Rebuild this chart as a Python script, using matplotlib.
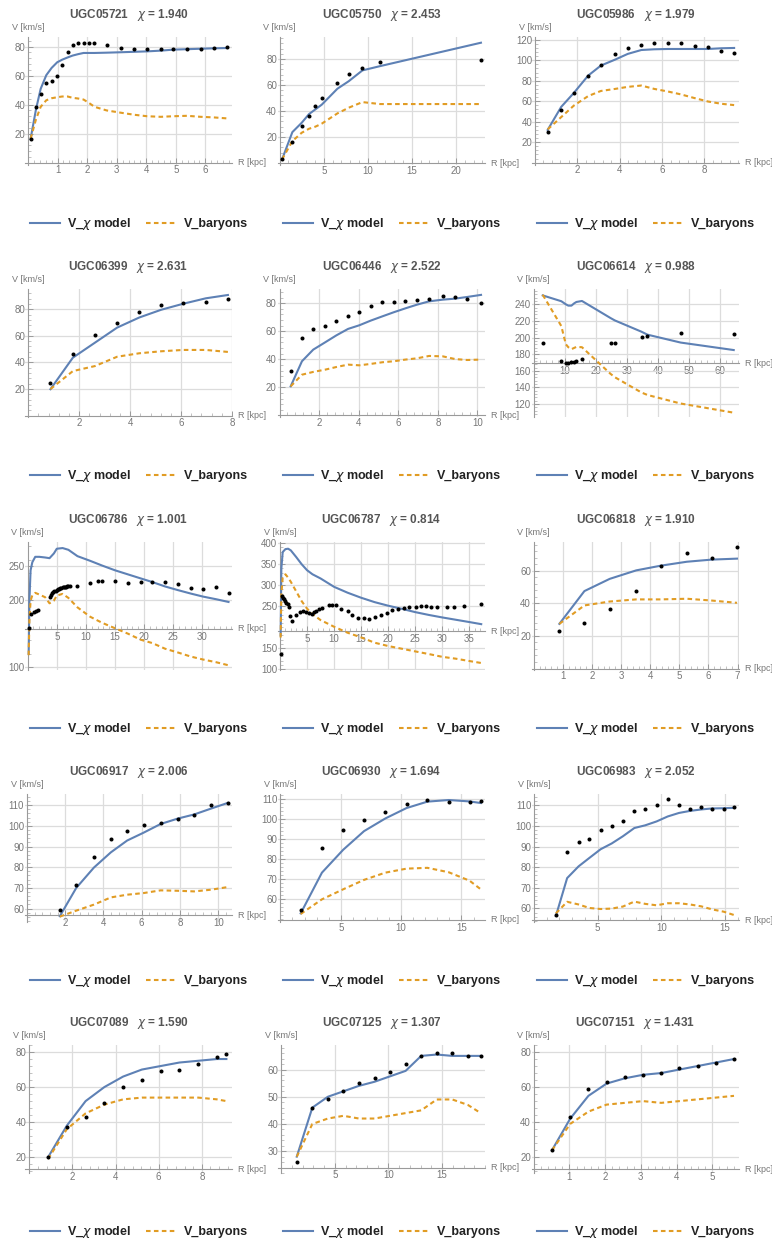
import matplotlib
matplotlib.use("Agg")
import matplotlib.pyplot as plt
from matplotlib.lines import Line2D
from matplotlib.ticker import AutoMinorLocator

plt.rcParams['font.family'] = ['Liberation Sans', 'DejaVu Sans']

BLUE = "#5e81b5"
ORANGE = "#e19c24"

# ---- data (R in kpc, V in km/s) ----
names = ["UGC05721", "UGC05750", "UGC05986", "UGC06399", "UGC06446", "UGC06614",
         "UGC06786", "UGC06787", "UGC06818", "UGC06917", "UGC06930", "UGC06983",
         "UGC07089", "UGC07125", "UGC07151"]
chis = ["1.940", "2.453", "1.979", "2.631", "2.522", "0.988",
        "1.001", "0.814", "1.910", "2.006", "1.694", "2.052",
        "1.590", "1.307", "1.431"]

# UGC05721
r_05721 = [0.09, 0.27, 0.43, 0.62, 0.80, 0.99, 1.16, 1.34, 1.51, 1.70, 1.88, 2.06, 2.25,
           2.66, 3.15, 3.60, 4.03, 4.49, 4.92, 5.38, 5.84, 6.28, 6.74]
v_05721 = [16.5, 38.5, 47.2, 55.2, 56.6, 59.8, 67.6, 76.3, 81.3, 82.2, 82.7, 82.2, 82.2,
           81.3, 79.3, 78.6, 78.4, 78.1, 78.6, 78.1, 78.4, 78.8, 79.5]
m_05721 = [16.5, 36.6, 50.9, 60.3, 65.3, 69.2, 71.0, 72.5, 73.8, 74.8, 75.6, 75.6, 75.6,
           75.8, 76.1, 76.4, 76.7, 77.2, 77.9, 78.2, 78.5, 78.8, 79.0]
b_05721 = [16.5, 29.8, 38.5, 43.0, 44.4, 45.1, 45.6, 45.6, 44.7, 44.2, 43.5, 41.2, 38.5,
           36.0, 34.4, 33.0, 32.0, 31.6, 32.0, 32.3, 31.6, 31.2, 30.5]

# UGC05750
r_05750 = [0.27, 1.44, 2.5, 3.33, 4.05, 4.77, 6.55, 7.84, 9.39, 11.4, 22.84]
v_05750 = [2.8, 16.2, 28.2, 36.4, 44.1, 50.0, 61.5, 68.5, 73.3, 77.9, 79.0]
m_05750 = [2.8, 23.8, 31.0, 37.7, 41.3, 44.9, 57.2, 63.0, 71.3, 74.6, 92.6]
b_05750 = [2.8, 16.9, 23.3, 26.4, 28.0, 30.3, 38.2, 42.6, 46.9, 45.4, 45.4]

# UGC05986
r_05986 = [0.6, 1.24, 1.84, 2.51, 3.11, 3.78, 4.38, 5.02, 5.63, 6.27, 6.9, 7.54, 8.17, 8.79, 9.4]
v_05986 = [29.9, 51.3, 68.5, 84.7, 95.5, 106.2, 112.3, 115.0, 116.6, 116.6, 116.6, 114.3,
           112.7, 109.0, 107.1]
m_05986 = [32.0, 54.5, 68.2, 85.0, 94.8, 100.6, 106.2, 110.0, 110.7, 111.0, 111.0, 111.0,
           111.0, 111.7, 112.0]
b_05986 = [32.5, 44.5, 55.8, 65.0, 70.0, 72.0, 74.0, 75.3, 72.0, 69.5, 66.6, 63.0, 59.7,
           57.5, 56.2]

# UGC06399
r_06399 = [0.87, 1.75, 2.62, 3.49, 4.36, 5.22, 6.08, 6.97, 7.84]
v_06399 = [24.7, 46.1, 60.5, 69.5, 77.6, 82.9, 84.4, 85.6, 87.7]
m_06399 = [19.9, 43.6, 54.9, 66.2, 73.8, 79.6, 84.1, 88.2, 90.7]
b_06399 = [20.0, 33.5, 37.3, 44.3, 46.9, 48.4, 49.4, 49.4, 47.9]

# UGC06446
r_06446 = [0.56, 1.13, 1.7, 2.3, 2.87, 3.46, 4.03, 4.6, 5.2, 5.77, 6.36, 6.94, 7.56, 8.25,
           8.86, 9.47, 10.18]
v_06446 = [31.7, 55.0, 61.7, 64.0, 67.6, 71.0, 74.0, 78.3, 81.2, 81.0, 81.7, 82.1, 83.3,
           85.2, 84.8, 83.3, 80.2]
m_06446 = [20.7, 38.6, 46.9, 52.1, 57.1, 61.7, 64.3, 67.6, 70.7, 73.6, 76.4, 79.0, 81.4,
           82.6, 83.3, 84.5, 86.0]
b_06446 = [20.7, 29.0, 31.0, 32.6, 34.5, 36.2, 35.7, 36.7, 37.9, 38.6, 39.8, 40.7, 42.4,
           42.1, 40.2, 39.5, 39.8]

# UGC06614
r_06614 = [2.95, 8.95, 10.4, 11.2, 12.2, 13.1, 13.8, 15.6, 24.8, 26.2, 34.8, 36.7, 47.4, 64.5]
v_06614 = [193.8, 172.0, 169.6, 169.6, 170.4, 171.2, 172.0, 174.0, 193.0, 193.8, 200.8,
           201.6, 204.9, 204.1]
m_06614 = [250.7, 243.7, 240.0, 238.4, 238.4, 241.2, 242.8, 244.0, 223.5, 220.6, 207.0,
           203.5, 194.0, 185.0]
b_06614 = [251.5, 213.8, 192.0, 188.4, 186.0, 187.6, 188.8, 188.4, 156.4, 152.3, 133.9,
           131.0, 120.7, 109.7]

# UGC06786
r_06786 = [0.17, 0.5, 1.16, 1.5, 1.73, 3.75, 4.0, 4.2, 4.4, 4.6, 4.8, 5.0, 5.2, 5.4, 5.6,
           5.8, 6.0, 6.2, 6.4, 6.6, 6.8, 7.0, 7.2, 8.55, 10.75, 12.1, 12.8, 15.0, 17.2, 19.4,
           21.4, 23.6, 25.8, 28.0, 30.1, 32.4, 34.5]
v_06786 = [158, 179, 181.5, 184, 185.5, 205, 208, 210, 211.5, 213, 214, 215, 216, 216.8,
           217.5, 218, 218.5, 219, 219.3, 219.6, 220, 220.2, 220.5, 220, 224.6, 228, 228.6,
           228.6, 225.6, 226, 227, 227, 223.6, 218, 215.6, 219, 211]
rm_06786 = [0.17, 0.3, 0.5, 0.8, 1.3, 2.0, 3.0, 3.75, 4.5, 5.0, 6.0, 7.0, 8.55, 10.75, 12.8,
            15.0, 17.2, 19.4, 21.4, 23.6, 25.8, 28.0, 30.1, 32.4, 34.5]
m_06786 = [120, 200, 244, 256, 264, 264, 263, 262, 269, 276, 277, 274.4, 265, 258, 251, 244,
           238, 232, 226.6, 220, 214.6, 209.5, 205, 201, 197]
b_06786 = [118, 170, 199, 207, 210.5, 208, 204, 195, 199, 206.5, 209, 203, 189, 175, 166,
           158, 150, 141, 136, 127.6, 122, 116, 111.6, 107.5, 103]

# UGC06787
r_06787 = [0.12, 0.4, 0.6, 0.8, 1.0, 1.2, 1.4, 1.6, 1.87, 2.2, 3.0, 3.74, 4.24, 4.86, 5.36,
           5.86, 6.3, 6.73, 7.23, 7.73, 9.0, 9.6, 10.29, 11.3, 12.5, 13.3, 14.4, 15.46, 16.46,
           17.5, 18.6, 19.7, 20.76, 21.8, 22.9, 23.9, 25.06, 26.0, 26.9, 27.9, 29.1, 30.9,
           32.2, 34.0, 37.2]
v_06787 = [135, 274, 270, 266, 262, 258, 254, 248, 226, 214, 228, 237, 239, 237, 234, 232,
           236, 239, 242, 246, 251.6, 253, 251.6, 242, 239, 229, 222, 220.6, 220, 225, 229,
           233, 239.7, 243.6, 246, 248.4, 249, 250, 250, 249, 247.6, 246.8, 248.4, 250.8,
           254.8]
rm_06787 = [0.12, 0.25, 0.5, 1.0, 1.5, 2.0, 3.0, 4.0, 5.0, 6.0, 7.5, 10.0, 12.5, 15.0, 17.5,
            20.0, 22.5, 25.0, 27.5, 30.0, 32.5, 35.0, 37.2]
m_06787 = [180, 340, 379, 386, 387, 383, 367, 350, 335.7, 326, 316, 296, 282, 270, 259.5,
           251, 243.6, 235.7, 229, 223, 217.5, 212, 207]
b_06787 = [175, 280, 318, 326, 318, 308, 285, 262, 244, 231, 216.7, 200.8, 186.5, 175.4,
           162.7, 154.8, 148.4, 142, 135.7, 129, 124.6, 119, 114.3]

# UGC06818
r_06818 = [0.88, 1.74, 2.61, 3.52, 4.37, 5.26, 6.11, 6.98]
v_06818 = [23.3, 28.0, 36.6, 47.7, 63.1, 71.1, 68.0, 74.4]
m_06818 = [27.4, 47.5, 55.0, 60.2, 63.1, 65.5, 66.8, 67.4]
b_06818 = [27.4, 38.7, 41.1, 42.4, 42.4, 42.8, 41.7, 40.3]

# UGC06917
r_06917 = [1.72, 2.58, 3.5, 4.39, 5.24, 6.1, 6.99, 7.88, 8.74, 9.61, 10.5]
v_06917 = [59.2, 71.4, 84.8, 93.6, 97.7, 100.3, 101.4, 103.2, 105.1, 110.2, 111.1]
m_06917 = [56.3, 70.0, 79.8, 87.2, 92.9, 96.7, 100.9, 103.5, 105.5, 108.3, 111.1]
b_06917 = [56.1, 59.0, 61.9, 65.4, 66.7, 67.5, 68.8, 68.6, 68.3, 69.1, 70.4]

# UGC06930
r_06930 = [1.68, 3.44, 5.2, 6.93, 8.69, 10.45, 12.18, 13.94, 15.67, 16.6]
v_06930 = [54.5, 85.8, 94.5, 99.3, 103.5, 107.7, 109.7, 108.7, 108.5, 108.8]
m_06930 = [53.0, 73.3, 84.7, 94.0, 100.3, 105.5, 108.7, 109.5, 108.8, 108.0]
b_06930 = [52.7, 60.0, 65.0, 69.7, 73.3, 75.3, 75.7, 73.5, 69.3, 65.0]

# UGC06983
r_06983 = [1.72, 2.6, 3.5, 4.35, 5.23, 6.1, 6.98, 7.88, 8.73, 9.63, 10.5, 11.38, 12.25,
           13.13, 14.0, 14.9, 15.7]
v_06983 = [56.8, 87.3, 92.1, 93.6, 98.1, 99.8, 102.2, 107.2, 108.2, 110.0, 113.1, 110.0,
           108.2, 109.0, 108.0, 108.0, 109.0]
m_06983 = [56.4, 74.7, 80.4, 84.5, 88.7, 91.5, 95.0, 99.0, 100.3, 102.2, 104.6, 106.3,
           107.3, 108.0, 108.5, 108.6, 108.8]
b_06983 = [57.6, 63.2, 61.9, 60.2, 59.7, 59.9, 60.9, 63.3, 62.2, 61.5, 62.5, 62.5, 61.9,
           61.0, 59.5, 58.4, 56.8]

# UGC07089
r_07089 = [0.87, 1.74, 2.61, 3.48, 4.35, 5.22, 6.09, 6.96, 7.83, 8.70, 9.14]
v_07089 = [20.0, 37.0, 43.0, 51.0, 60.0, 64.0, 69.0, 70.0, 73.0, 77.0, 79.0]
m_07089 = [20.0, 38.0, 52.0, 60.0, 66.0, 70.0, 72.0, 74.0, 75.0, 76.0, 76.0]
b_07089 = [19.0, 36.0, 45.0, 50.0, 53.0, 54.0, 54.0, 54.0, 54.0, 53.0, 52.0]

# UGC07125
r_07125 = [1.45, 2.9, 4.35, 5.8, 7.25, 8.7, 10.15, 11.6, 13.05, 14.5, 15.95, 17.4, 18.6]
v_07125 = [26.0, 46.0, 49.0, 52.0, 55.0, 57.0, 59.0, 62.0, 65.0, 66.0, 66.0, 65.0, 65.0]
m_07125 = [28.0, 46.0, 50.0, 52.0, 54.0, 55.5, 57.5, 59.5, 65.0, 65.5, 65.0, 65.0, 65.0]
b_07125 = [28.0, 40.0, 42.0, 43.0, 42.0, 42.0, 43.0, 44.0, 45.0, 49.0, 49.0, 47.0, 44.0]

# UGC07151
r_07151 = [0.51, 1.02, 1.53, 2.04, 2.55, 3.06, 3.57, 4.08, 4.59, 5.1, 5.61]
v_07151 = [24.0, 43.0, 59.0, 63.0, 66.0, 67.0, 68.0, 71.0, 72.0, 74.0, 76.0]
m_07151 = [24.0, 42.0, 55.0, 62.0, 65.0, 67.0, 68.0, 70.0, 72.0, 74.0, 76.0]
b_07151 = [24.0, 39.0, 46.0, 50.0, 51.0, 52.0, 51.0, 52.0, 53.0, 54.0, 55.0]

series = [
    (r_05721, v_05721, r_05721, m_05721, b_05721),
    (r_05750, v_05750, r_05750, m_05750, b_05750),
    (r_05986, v_05986, r_05986, m_05986, b_05986),
    (r_06399, v_06399, r_06399, m_06399, b_06399),
    (r_06446, v_06446, r_06446, m_06446, b_06446),
    (r_06614, v_06614, r_06614, m_06614, b_06614),
    (r_06786, v_06786, rm_06786, m_06786, b_06786),
    (r_06787, v_06787, rm_06787, m_06787, b_06787),
    (r_06818, v_06818, r_06818, m_06818, b_06818),
    (r_06917, v_06917, r_06917, m_06917, b_06917),
    (r_06930, v_06930, r_06930, m_06930, b_06930),
    (r_06983, v_06983, r_06983, m_06983, b_06983),
    (r_07089, v_07089, r_07089, m_07089, b_07089),
    (r_07125, v_07125, r_07125, m_07125, b_07125),
    (r_07151, v_07151, r_07151, m_07151, b_07151),
]

# axis ranges, axis crossing and ticks for each panel
xlims = [(-0.1, 6.9), (-0.19, 23.3), (-0.14, 9.63), (-0.13, 8.0), (-0.08, 10.38),
         (-0.5, 66.2), (-0.46, 35.1), (-0.37, 37.9), (-0.06, 7.05), (-0.1, 10.72),
         (-0.2, 16.95), (-0.16, 16.1), (-0.2, 9.4), (-0.3, 19.0), (-0.05, 5.75)]
ylims = [(-1.6, 86.6), (-1.5, 97), (-2.3, 122.7), (-1.0, 95.2), (-1.2, 90.2),
         (104.5, 258.4), (96, 286), (97.6, 403), (-0.9, 77.6), (53.5, 115.4),
         (48.7, 112.5), (53.4, 115.5), (11, 84), (22, 69), (11, 84)]
y0s = [0, 0, 0, 0, 0, 169, 157, 190, 0, 56.8, 49.7, 54.2, 13, 24, 13]
xticks = [[1, 2, 3, 4, 5, 6], [5, 10, 15, 20], [2, 4, 6, 8], [2, 4, 6, 8], [2, 4, 6, 8, 10],
          [10, 20, 30, 40, 50, 60], [5, 10, 15, 20, 25, 30], [5, 10, 15, 20, 25, 30, 35],
          [1, 2, 3, 4, 5, 6, 7], [2, 4, 6, 8, 10], [5, 10, 15], [5, 10, 15],
          [2, 4, 6, 8], [5, 10, 15], [1, 2, 3, 4, 5]]
yticks = [[20, 40, 60, 80], [20, 40, 60, 80], [20, 40, 60, 80, 100, 120], [20, 40, 60, 80],
          [20, 40, 60, 80], [120, 140, 160, 180, 200, 220, 240], [100, 200, 250],
          [100, 150, 250, 300, 350, 400], [20, 40, 60], [60, 70, 80, 90, 100, 110],
          [60, 70, 80, 90, 100, 110], [60, 70, 80, 90, 100, 110], [20, 40, 60, 80],
          [30, 40, 50, 60], [20, 40, 60, 80]]

W, H = 772, 1243
col_left = [25, 278, 532]
title_y = [15, 267, 520, 772, 1023]
AX_W, AX_H = 207, 128

fig = plt.figure(figsize=(W / 100, H / 100), dpi=100)

for i, name in enumerate(names):
    row, col = divmod(i, 3)
    left = col_left[col]
    top = title_y[row]
    ax = fig.add_axes([left / W, 1 - (top + 22 + AX_H) / H, AX_W / W, AX_H / H])
    r_obs, v_obs, r_mod, v_mod, v_bar = series[i]

    ax.plot(r_mod, v_mod, color=BLUE, lw=1.5, solid_joinstyle='round', zorder=3)
    ax.plot(r_mod, v_bar, color=ORANGE, lw=1.5, ls=(0, (2.2, 1.6)), zorder=3)
    ax.plot(r_obs, v_obs, 'o', color='black', ms=2.9, mew=0, zorder=4)

    ax.set_xlim(*xlims[i])
    ax.set_ylim(*ylims[i])
    ax.set_xticks(xticks[i])
    ax.set_yticks(yticks[i])
    ax.xaxis.set_minor_locator(AutoMinorLocator(5))
    ax.yaxis.set_minor_locator(AutoMinorLocator(5))
    ax.grid(True, which='major', color='#dcdcdc', lw=0.9)
    ax.set_axisbelow(True)

    for s in ['top', 'right']:
        ax.spines[s].set_visible(False)
    ax.spines['left'].set_position(('data', 0))
    ax.spines['bottom'].set_position(('data', y0s[i]))
    for s in ['left', 'bottom']:
        ax.spines[s].set_color('#9a9a9a')
        ax.spines[s].set_linewidth(0.8)
    ax.tick_params(which='major', direction='in', length=3.5, width=0.7, color='#9a9a9a',
                   labelcolor='#777777', labelsize=7, pad=2)
    ax.tick_params(which='minor', direction='in', length=2, width=0.5, color='#aaaaaa')

    ax.annotate('V [km/s]', xy=(0, 1), xycoords=('data', 'axes fraction'),
                xytext=(0, 7), textcoords='offset points', ha='center', va='center',
                fontsize=6.5, color='#777777', annotation_clip=False)
    ax.annotate('R [kpc]', xy=(1, y0s[i]), xycoords=('axes fraction', 'data'),
                xytext=(4, 0), textcoords='offset points', ha='left', va='center',
                fontsize=6.5, color='#777777', annotation_clip=False)

    fig.text((left + AX_W / 2) / W, 1 - top / H, name + "   $\\chi$ = " + chis[i],
             ha='center', va='center', fontsize=8.5, fontweight='bold', color='#555555')

    handles = [Line2D([], [], color=BLUE, lw=1.5),
               Line2D([], [], color=ORANGE, lw=1.5, ls=(0, (2.2, 1.6)))]
    fig.legend(handles, ["V_$\\chi$ model", "V_baryons"], loc='center',
               bbox_to_anchor=((left + 114) / W, 1 - (top + 209) / H), ncol=2,
               frameon=False, prop={'weight': 'bold', 'size': 9}, handlelength=2.4,
               handletextpad=0.6, columnspacing=1.2, labelcolor='#222222')

fig.savefig("out.png", dpi=100)
